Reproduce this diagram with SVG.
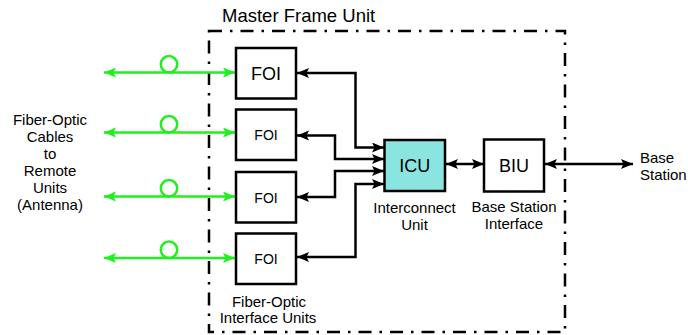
<svg xmlns="http://www.w3.org/2000/svg" width="688" height="335" viewBox="0 0 688 335">
<style>
text{font-family:"Liberation Sans",Arial,sans-serif;fill:#000}
.box{fill:#fff;stroke:#000;stroke-width:2.5}
.icu{fill:#8ae5e1;stroke:#000;stroke-width:2.5}
.lbl{font-size:15px;text-anchor:middle}
.blk{fill:none;stroke:#000;stroke-width:2.5;marker-start:url(#ab);marker-end:url(#ab)}
.grn{fill:none;stroke:#22ee22;stroke-width:2.5;marker-start:url(#ag);marker-end:url(#ag)}
.loop{fill:none;stroke:#22ee22;stroke-width:2.5}
</style>
<defs>
<marker id="ab" markerUnits="userSpaceOnUse" markerWidth="13" markerHeight="11" refX="12" refY="5" orient="auto-start-reverse" viewBox="0 0 13 11">
<path d="M0,0 L12,5 L0,10 L2.5,5 z" fill="#000"/>
</marker>
<marker id="ag" markerUnits="userSpaceOnUse" markerWidth="13" markerHeight="11" refX="12" refY="5" orient="auto-start-reverse" viewBox="0 0 13 11">
<path d="M0,0 L12,5 L0,10 L2.5,5 z" fill="#22ee22"/>
</marker>
</defs>
<g id="frame">
<rect x="209" y="31" width="356" height="301" fill="none" stroke="#000" stroke-width="2.5" stroke-dasharray="13 8 2.5 8"/>
<text x="222" y="22" style="font-size:18.5px">Master Frame Unit</text>
</g>
<g id="connectors">
<path class="grn" d="M104,72.5 H235"/>
<path class="grn" d="M104,132.5 H235"/>
<path class="grn" d="M104,196.5 H235"/>
<path class="grn" d="M104,258 H235"/>
<circle class="loop" cx="169" cy="64.3" r="8.2"/>
<circle class="loop" cx="169" cy="124.3" r="8.2"/>
<circle class="loop" cx="169" cy="188.3" r="8.2"/>
<circle class="loop" cx="169" cy="249.8" r="8.2"/>
<path class="blk" d="M384,147.5 H355.5 V73 H297"/>
<path class="blk" d="M384,159 H335 V135.5 H297"/>
<path class="blk" d="M384,171 H335 V197 H297"/>
<path class="blk" d="M384,184 H355.5 V257 H297"/>
<path class="blk" d="M446,164 H484"/>
<path class="blk" d="M545,164 H633"/>
</g>
<g id="foi1">
<rect class="box" x="236" y="48" width="60" height="50.5"/>
<text x="266" y="79.5" style="font-size:18px;text-anchor:middle">FOI</text>
</g>
<g id="foi2">
<rect class="box" x="236" y="109.5" width="60" height="50.5"/>
<text x="266" y="140" style="font-size:14px;text-anchor:middle">FOI</text>
</g>
<g id="foi3">
<rect class="box" x="236" y="172" width="60" height="50.5"/>
<text x="266" y="202.5" style="font-size:14px;text-anchor:middle">FOI</text>
</g>
<g id="foi4">
<rect class="box" x="236" y="233.5" width="60" height="50.5"/>
<text x="266" y="264" style="font-size:14px;text-anchor:middle">FOI</text>
</g>
<g id="icu">
<rect class="icu" x="384.5" y="140" width="60.5" height="51"/>
<text x="414.7" y="172" style="font-size:18px;text-anchor:middle">ICU</text>
</g>
<g id="biu">
<rect class="box" x="484" y="139.5" width="60" height="52"/>
<text x="514" y="172" style="font-size:18px;text-anchor:middle">BIU</text>
</g>
<g id="labels">
<text class="lbl"><tspan x="50" y="124.5">Fiber-Optic</tspan><tspan x="50" y="141.5">Cables</tspan><tspan x="50" y="158.5">to</tspan><tspan x="50" y="175.5">Remote</tspan><tspan x="50" y="192.5">Units</tspan><tspan x="50" y="209.5">(Antenna)</tspan></text>
<text class="lbl"><tspan x="414.5" y="212.5">Interconnect</tspan><tspan x="414.5" y="229.5">Unit</tspan></text>
<text class="lbl"><tspan x="514" y="212">Base Station</tspan><tspan x="514" y="229">Interface</tspan></text>
<text class="lbl"><tspan x="269" y="306.5">Fiber-Optic</tspan><tspan x="268" y="323">Interface Units</tspan></text>
<text style="font-size:15px"><tspan x="640" y="163">Base</tspan><tspan x="640" y="180">Station</tspan></text>
</g>
</svg>
